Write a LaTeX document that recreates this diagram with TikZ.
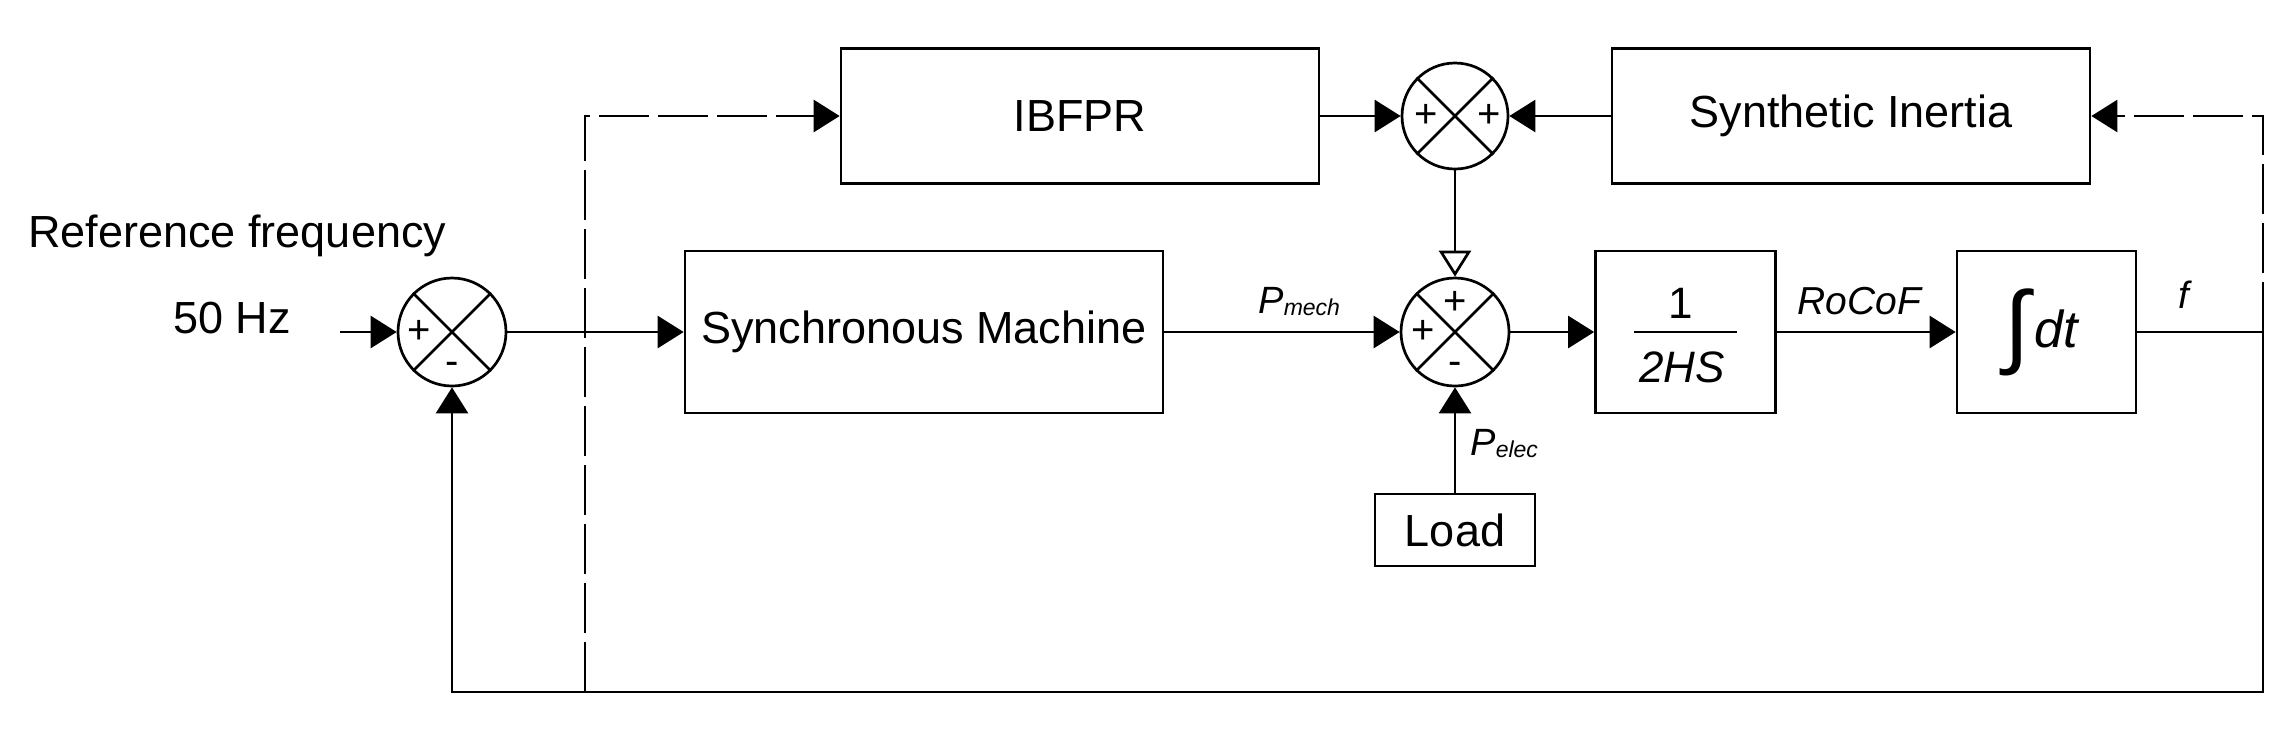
\documentclass[tikz,border=0pt]{standalone}
\usepackage{fontspec}
\setmainfont{Liberation Sans}
\usetikzlibrary{arrows.meta}
\newcommand\fsz[1]{\fontsize{#1}{#1}\selectfont}
\begin{document}
\begin{tikzpicture}[x=0.5pt,y=-0.5pt,
  blk/.style={draw, line width=1.35pt, inner sep=0pt, font=\fsz{22.5}},
  sumc/.style={draw, circle, line width=1.35pt, inner sep=0pt},
  sgn/.style={font=\fsz{20}, inner sep=0pt},
  wire/.style={line width=1.35pt},
  arr/.style={wire, -{Triangle[length=13pt,width=16pt]}},
  oarr/.style={wire, -{Triangle[open,length=13pt,width=16pt,fill=white]}},
  dsh/.style={dash pattern=on 25pt off 4.5pt},
  lbl/.style={inner sep=0pt, anchor=base west},
  lblc/.style={inner sep=0pt, anchor=base}
]
\fill[white] (0,0) rectangle (2284,752);
\useasboundingbox (0,0) rectangle (2284,752);

% blocks
\node[blk, minimum width=239pt, minimum height=67.5pt] (ibfpr) at (1080,116) {IBFPR};
\node[blk, minimum width=239pt, minimum height=67.5pt] (synth) at (1851,116) {Synthetic Inertia};
\node[blk, minimum width=239pt, minimum height=81pt] (sync) at (924,332) {Synchronous Machine};
\node[blk, minimum width=90pt, minimum height=81pt] (hs) at (1685.5,332) {};
\node[blk, minimum width=89.5pt, minimum height=81pt] (int) at (2046.5,332) {};
\node[blk, minimum width=80pt, minimum height=36pt] (load) at (1455,530) {Load};

% summing junctions
\node[sumc, minimum size=108pt*0.5] (s1) at (452,332) {};
\node[sumc, minimum size=106pt*0.5] (s2) at (1455,116) {};
\node[sumc, minimum size=108pt*0.5] (s3) at (1455,332) {};
\foreach \s in {s1,s2,s3}{
  \draw[wire] (\s.45) -- (\s.225);
  \draw[wire] (\s.135) -- (\s.315);
}
\node[sgn] (s1p) at (419,332) {+};
\node[sgn, anchor=base] (s1m) at (452,374) {-};
\node[sgn] (s2pl) at (1426,116) {+};
\node[sgn] (s2pr) at (1489,116) {+};
\node[sgn] (s3pt) at (1455,303) {+};
\node[sgn] (s3pl) at (1423,332) {+};
\node[sgn, anchor=base] (s3m) at (1455,374) {-};

% block contents
\node[lblc, font=\fsz{22}] (one) at (1681,318) {1};
\node[lblc, font=\fsz{22}\itshape] (hsden) at (1682,382) {2HS};
\draw[wire] ([xshift=-25.75pt]hs.center) -- ([xshift=25.75pt]hs.center);
\node[inner sep=0pt, font=\fsz{46}] (intg) at (2017,332) {∫};
\node[lbl, font=\fsz{26}\itshape] (dt) at (2034,347) {dt};

% labels
\node[lbl, font=\fsz{22.5}] (reff) at (28,247) {Reference frequency};
\node[lbl, font=\fsz{22.5}] (hz) at (173,333) {50 Hz};
\node[lbl, font=\fsz{19}\itshape] (pmech) at (1258,313) {P\raisebox{-1pt}{\fsz{11.5}mech}};
\node[lbl, font=\fsz{19}\itshape] (pelec) at (1470,455) {P\raisebox{-1pt}{\fsz{11.5}elec}};
\node[lbl, font=\fsz{19.5}\itshape] (rocof) at (1797,314) {RoCoF};
\node[lblc, font=\fsz{19}\itshape] (flbl) at (2184,308) {f};

% connectors
\coordinate (in) at (340,332);
\coordinate (jr) at (2263,332);
\coordinate (br) at (2263,692);
\coordinate (bl) at (452,692);
\coordinate (bd) at (585,692);
\coordinate (tr) at (2263,116);
\coordinate (tl) at (585,116);

\draw[arr] (in) -- (s1);
\draw[arr] (s1) -- (sync);
\draw[arr] (sync) -- (s3);
\draw[arr] (load) -- (s3);
\draw[oarr] (s2) -- (s3);
\draw[arr] (ibfpr) -- (s2);
\draw[arr] (synth) -- (s2);
\draw[arr] (s3) -- (hs);
\draw[arr] (hs) -- (int);
\draw[arr] (int.east) -- (jr) -- (br) -- (bl) -- (s1.south);
\draw[arr, dsh] (jr) -- (tr) -- (synth.east);
\draw[arr, dsh] (bd) -- (tl) -- (ibfpr.west);
\end{tikzpicture}
\end{document}
